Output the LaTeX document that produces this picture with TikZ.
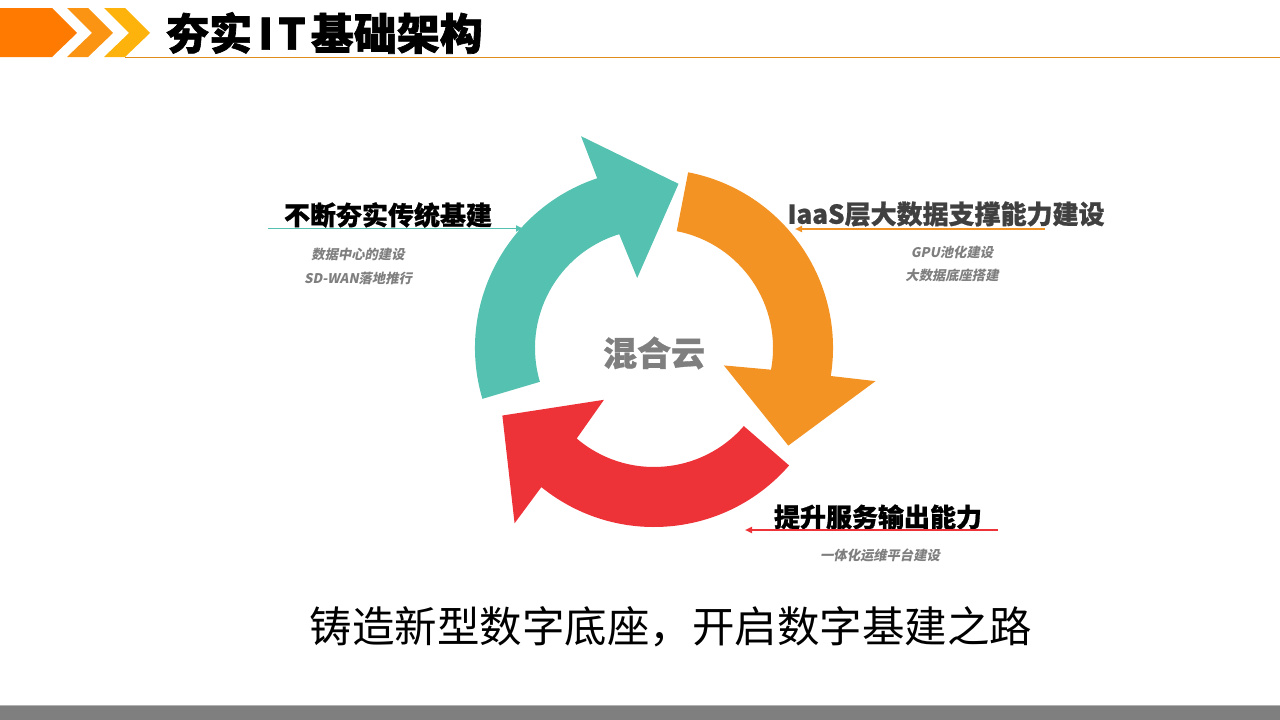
\documentclass[tikz,border=0pt]{standalone}
\usepackage{fontspec}
\newfontfamily\cjk{Noto Sans CJK SC}
\newfontfamily\cjkhv{Noto Sans CJK SC}[FakeBold=1.5]
\newfontfamily\cjkbd{Noto Sans CJK SC}[FakeBold=0.8]
\newfontfamily\cjkit{Noto Sans CJK SC}[FakeSlant=0.2]
\usetikzlibrary{arrows.meta}
\definecolor{tealA}{HTML}{55C1B0}
\definecolor{orgA}{HTML}{F39323}
\definecolor{redA}{HTML}{EE3338}
\definecolor{chevA}{HTML}{FF7A00}
\definecolor{chevB}{HTML}{FB9412}
\definecolor{chevC}{HTML}{FDB30C}
\definecolor{lineO}{HTML}{E08C1A}
\definecolor{subgray}{HTML}{7F7F7F}
\definecolor{darkgray}{HTML}{404040}
\newcommand\myringarrow[2]{%
  \fill[#1] ({#2}:179) arc[start angle={#2}, end angle={#2-88}, radius=179]
    -- ({#2-87.5}:224) -- ({#2-115}:166) -- ({#2-93}:72) -- ({#2-89.5}:119)
    arc[start angle={#2-89.5}, end angle={#2}, radius=119] -- cycle;}
\tikzset{
  headlbl/.style={font=\cjkbd\bfseries\fontsize{26}{30}\selectfont, inner sep=0pt},
  sublbl/.style={font=\cjkit\bfseries\fontsize{13.3}{16}\selectfont, text=subgray, inner sep=0pt},
  lblline/.style={line width=1.8pt, -{Triangle[length=7pt,width=6pt]}}
}
\begin{document}
\begin{tikzpicture}[x=1pt,y=-1pt]
\useasboundingbox (0,0) rectangle (1280,720);
% header chevrons
\fill[chevA] (0,8) -- (52,8) -- (77,33) -- (52,57) -- (0,57) -- cycle;
\fill[chevB] (67,8) -- (88,8) -- (113,33) -- (88,57) -- (67,57) -- (92,33) -- cycle;
\fill[chevC] (104,8) -- (125,8) -- (150,33) -- (125,57) -- (104,57) -- (129,33) -- cycle;
\draw[lineO, line width=1.6pt] (125,57.5) -- (1280,57.5);
\node[anchor=west, inner sep=0pt, font=\cjkhv\bfseries\fontsize{43}{48}\selectfont] (title) at (166,33) {夯实\kern6pt I\kern5pt T\kern5pt 基础架构};
% ring
\begin{scope}[shift={(654pt,-348pt)}, x=1pt, y=1pt]
\myringarrow{tealA}{196.5}
\myringarrow{orgA}{79}
\myringarrow{redA}{-41}
\end{scope}
\node[font=\cjkbd\bfseries\fontsize{34}{38}\selectfont, text=subgray] (center) at (654,353) {混合云};
% left label
\node[headlbl] (l1) at (388,215) {不断夯实传统基建};
\node[sublbl] (l2) at (358,254) {数据中心的建设};
\node[sublbl] (l3) at (358,278) {SD-WAN落地推行};
\coordinate (la) at (268,228.5);
\coordinate (lb) at (523,228.5);
\draw[lblline, tealA] (la) -- (lb);
% right label
\node[headlbl, text=darkgray] (r1) at (946,214) {IaaS层大数据支撑能力建设};
\node[sublbl] (r2) at (952,252) {GPU池化建设};
\node[sublbl] (r3) at (952,275) {大数据底座搭建};
\coordinate (ra) at (1045,229);
\coordinate (rb) at (795,229);
\draw[lblline, orgA] (ra) -- (rb);
% bottom label
\node[headlbl] (b1) at (878,517) {提升服务输出能力};
\node[sublbl] (b2) at (880,555) {一体化运维平台建设};
\coordinate (ba) at (998,530);
\coordinate (bb) at (745,530);
\draw[lblline, redA] (ba) -- (bb);
% slogan
\node[font=\cjk\fontsize{42.5}{48}\selectfont, inner sep=0pt] (slogan) at (671,627) {铸造新型数字底座，开启数字基建之路};
% bottom bar
\fill[gray!60!white] (0,704.5) rectangle (1280,706);
\fill[subgray] (0,706) rectangle (1280,720);
\end{tikzpicture}
\end{document}
